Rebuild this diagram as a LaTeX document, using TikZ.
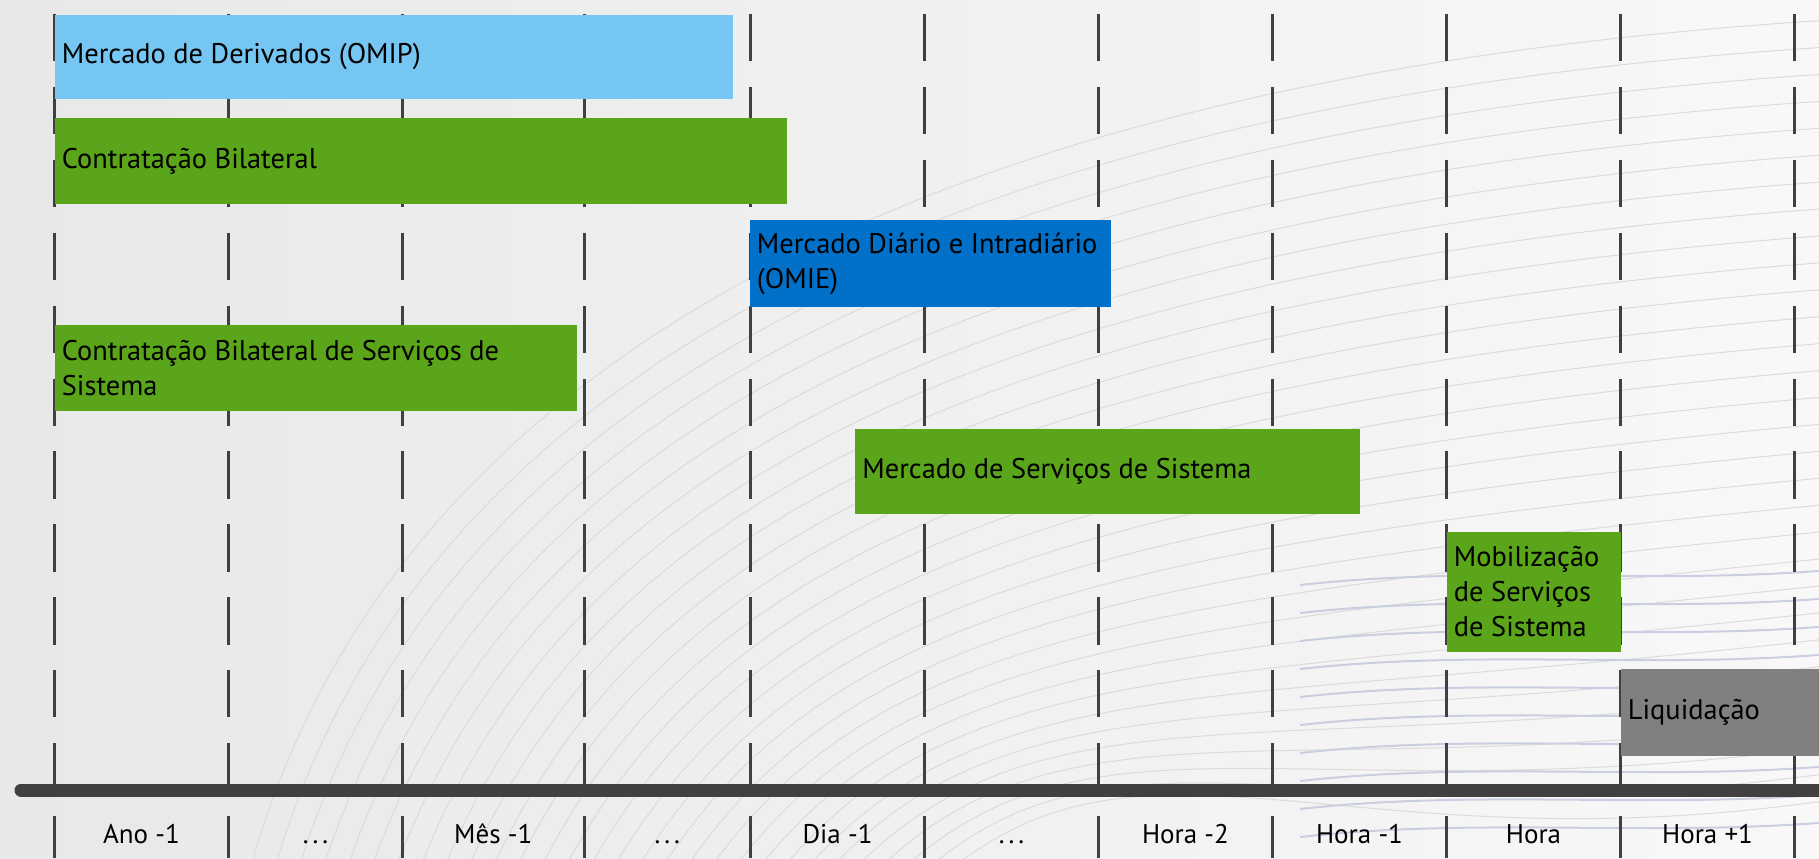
\documentclass[tikz,border=0pt]{standalone}
\usepackage{fontspec}
\setmainfont{PT Sans}
\definecolor{lightblue}{HTML}{75C6F2}
\definecolor{mktgreen}{HTML}{5AA519}
\definecolor{mktblue}{HTML}{0070C8}
\definecolor{liqgray}{HTML}{808080}
\definecolor{tickgray}{HTML}{404040}
\definecolor{bgleft}{HTML}{E8E8E8}
\definecolor{bgright}{HTML}{F8F8F8}
\definecolor{waveblue}{HTML}{C9CFE0}
\newcommand{\gapdots}{.\hspace{2pt}.\hspace{2pt}.}

\tikzset{
  tick/.style={line width=1.5pt, color=tickgray},
  bar/.style={anchor=west, align=left, inner sep=0pt, font=\fontsize{14.2}{17.5}\selectfont},
  lbl/.style={inner sep=0pt, text height=10pt, text depth=3pt, font=\fontsize{13.5}{17.5}\selectfont},
  wave/.style={color=gray!28, line width=0.5pt},
}

\begin{document}
\begin{tikzpicture}[x=0.5pt, y=-0.5pt]
\clip (0,0) rectangle (1819,858);
\shade[left color=bgleft, right color=bgright] (0,0) rectangle (1819,858);

% background waves
\foreach \i in {0,...,29} {
  \pgfmathsetmacro\t{\i/29}
  \draw[wave] ({250+700*\t},870) .. controls ({350+800*\t},{508+200*\t}) and ({700+650*\t},{90+780*\t}) .. (1830,{20+780*\t});
}
\foreach \i in {0,...,9}
  \draw[color=waveblue, line width=1pt] (1300,{585+28*\i}) .. controls (1480,{565+28*\i}) and (1650,{585+28*\i}) .. (1830,{570+28*\i});

% time columns
\foreach \x in {54.5,228.5,402.5,584,750.5,924.5,1098.5,1272.5,1446.5,1620.5,1794.5} {
  \draw[tick, dash pattern=on 23.65pt off 12.8pt] (\x,14) -- (\x,784);
  \draw[tick] (\x,816) -- (\x,858);
}

% time axis
\draw[line width=6.5pt, color=tickgray, line cap=round] (21,790) -- (1840,790);

% market bars
\foreach \nm/\xa/\ya/\xb/\yb/\col/\txt in {
  omip/54.5/15/733/99/lightblue/{Mercado de Derivados (OMIP)},
  bilat/54.5/118/786.5/204/mktgreen/{Contratação Bilateral},
  omie/749.5/220/1111/307/mktblue/{Mercado Diário e Intradiário\\(OMIE)},
  bilatss/54.5/325/576.5/411/mktgreen/{Contratação Bilateral de Serviços de\\Sistema},
  mss/855/429/1360/514/mktgreen/{Mercado de Serviços de Sistema},
  mob/1446.5/532/1620.5/652/mktgreen/{Mobilização\\de Serviços\\de Sistema},
  liq/1620.5/669/1819/756/liqgray/{Liquidação}
}{
  \fill[\col] (\xa,\ya) rectangle (\xb,\yb);
  \node[bar] (\nm) at ({\xa+7},{(\ya+\yb)/2}) {\txt};
}

% period labels
\foreach \xa/\xb/\t [count=\i] in {54.5/228.5/Ano -1, 228.5/402.5/\gapdots, 402.5/584/Mês -1,
  584/750.5/\gapdots, 750.5/924.5/Dia -1, 924.5/1098.5/\gapdots, 1098.5/1272.5/Hora -2,
  1272.5/1446.5/Hora -1, 1446.5/1620.5/Hora, 1620.5/1794.5/Hora +1}
  \node[lbl] (t\i) at ({(\xa+\xb)/2},836) {\t};

\end{tikzpicture}
\end{document}
